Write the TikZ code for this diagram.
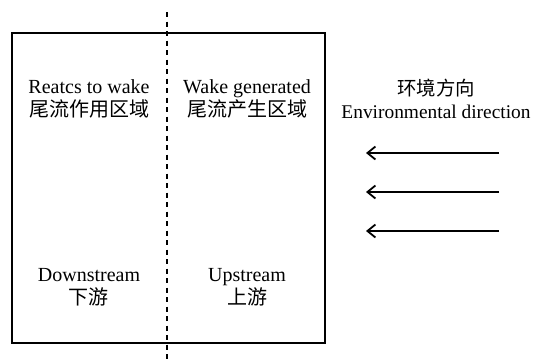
\documentclass[tikz,border=0pt]{standalone}
\usepackage{fontspec}
\setmainfont{Liberation Serif}
\newfontfamily\cjk{Noto Sans CJK SC}
\usetikzlibrary{arrows.meta}
\begin{document}
\begin{tikzpicture}[x=1pt,y=-1pt,
  lbl/.style={align=center,font=\fontsize{20}{23}\selectfont,inner sep=0pt},
  box/.style={draw,line width=2.2pt},
  divider/.style={line width=1.6pt,dash pattern=on 5pt off 4.5pt},
  flow/.style={line width=1.8pt,-{Straight Barb[length=8pt,width=13pt,line width=1.8pt]}}]
\useasboundingbox (0,0) rectangle (533,362);
\draw[box] (12,33) rectangle (325,343);
\coordinate (dtop) at (167,12);
\coordinate (dbot) at (167,362);
\draw[divider] (dtop) -- (dbot);
\node[lbl] (ul) at (89,99) {Reatcs to wake\\{\cjk 尾流作用区域}};
\node[lbl] (ur) at (247,99) {Wake generated\\{\cjk 尾流产生区域}};
\node[lbl] (ll) at (89,287) {Downstream\\{\cjk 下游}};
\node[lbl] (lr) at (247,287) {Upstream\\{\cjk 上游}};
\node[lbl,font=\fontsize{19.4}{23}\selectfont] (env) at (436,99) {{\cjk 环境方向}\\Environmental direction};
\foreach \i/\y in {1/153,2/192,3/231}{
  \coordinate (s\i) at (499,\y);
  \coordinate (e\i) at (366,\y);
  \draw[flow] (s\i) -- (e\i);
}
\end{tikzpicture}
\end{document}
